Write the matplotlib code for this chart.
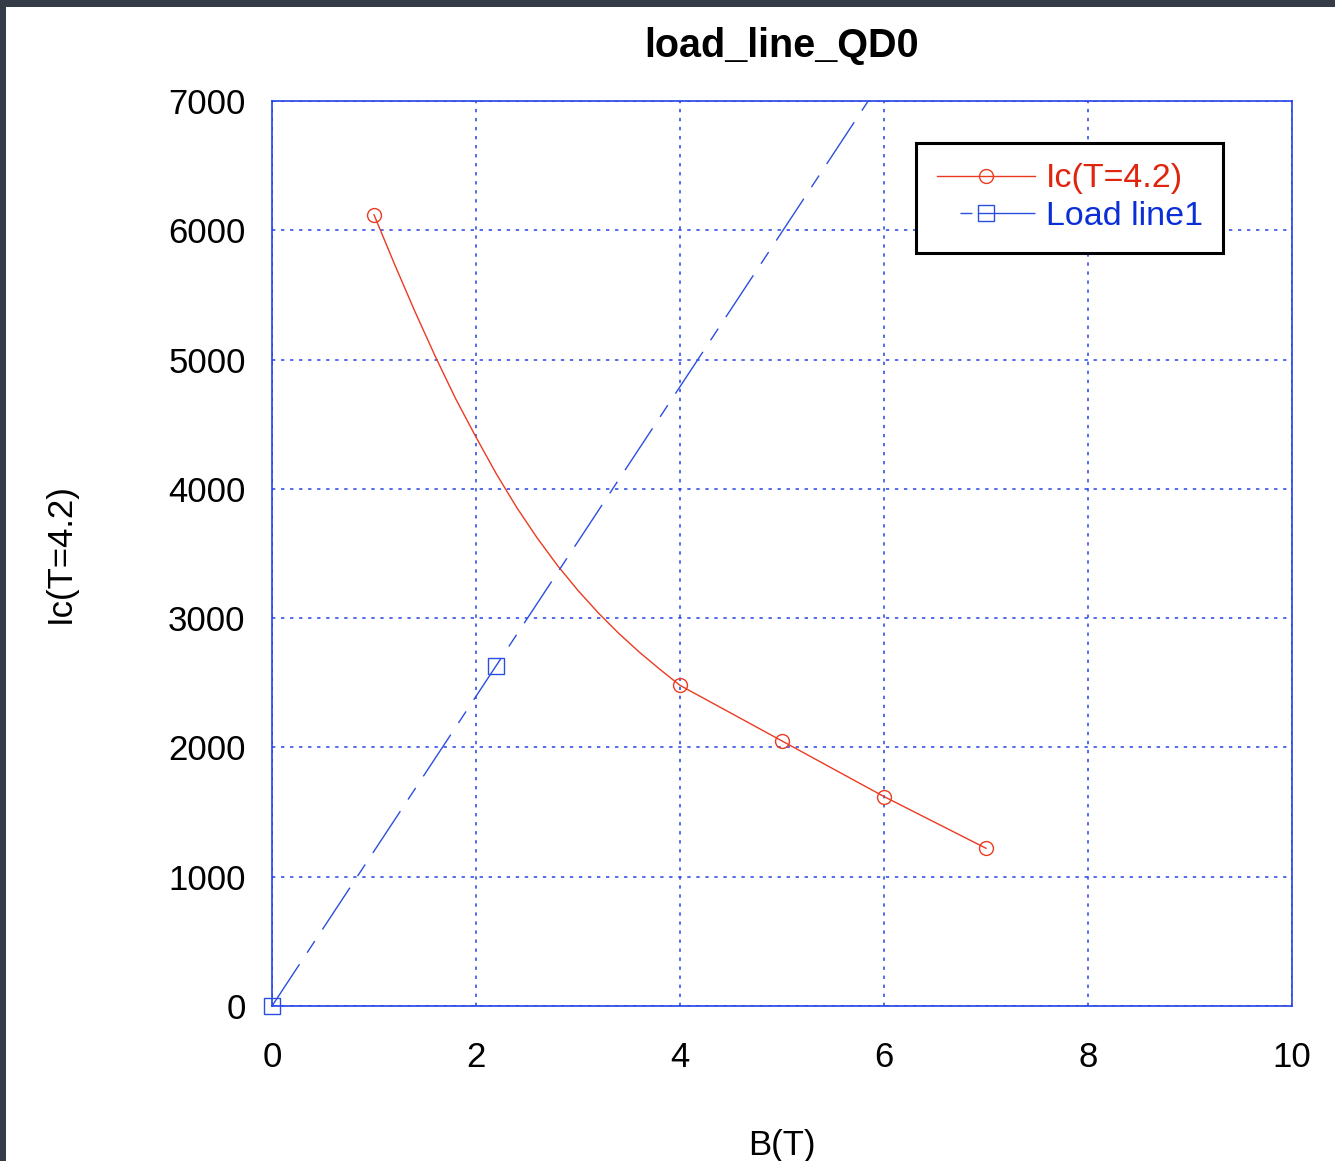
import matplotlib
matplotlib.use("Agg")
import matplotlib.pyplot as plt
from matplotlib.lines import Line2D
from matplotlib.patches import Rectangle

# ==========================================
# DADOS
# ==========================================

titulo = "load_line_QD0"
rotulo_x = "B(T)"
rotulo_y = "Ic(T=4.2)"

# pontos medidos de Ic (marcadores)
ic_b = [1, 4, 5, 6, 7]
ic_vals = [6120, 2480, 2050, 1620, 1220]

# curva suave (linha vermelha)
curva_b = [1.0, 1.2, 1.4, 1.6, 1.8, 2.0, 2.2, 2.4, 2.6, 2.8, 3.0, 3.2, 3.4,
           3.6, 3.8, 4.0, 5.0, 6.0, 7.0]
curva_ic = [6120, 5740, 5374, 5026, 4698, 4400, 4115, 3855, 3620, 3406, 3214,
            3040, 2882, 2738, 2606, 2480, 2050, 1620, 1220]

# linha de carga
carga_b = [0, 2.196]
carga_ic = [0, 2630]

x_ticks = [0, 2, 4, 6, 8, 10]
y_ticks = [0, 1000, 2000, 3000, 4000, 5000, 6000, 7000]

# ==========================================
# ESTILO
# ==========================================

plt.rcParams['font.family'] = ['Liberation Sans', 'DejaVu Sans']
plt.rcParams['lines.scale_dashes'] = False

AZUL_GRADE = '#2442e8'
AZUL = '#2a4fe0'
AZUL_TXT = '#0b2fd6'
VERMELHO = '#ec3a22'
VERMELHO_TXT = '#e0250f'
TRACO_CARGA = (0, (36, 10, 10, 10))

fig = plt.figure(figsize=(13.35, 11.61), dpi=100, facecolor='#353c47')
fundo = Rectangle((6 / 1335, 0), 1, 1 - 7 / 1161, transform=fig.transFigure,
                  facecolor='white', edgecolor='none', zorder=-10)
fig.patches.append(fundo)

ax = fig.add_axes([272 / 1335, 1 - 1006 / 1161, 1020 / 1335, 905 / 1161])
ax.set_xlim(0, 10)
ax.set_ylim(0, 7000)
ax.set_xticks(x_ticks)
ax.set_yticks(y_ticks)
ax.tick_params(length=0, labelsize=25)
ax.tick_params(axis='y', pad=19)
ax.tick_params(axis='x', pad=25)

for sp in ax.spines.values():
    sp.set_color(AZUL_GRADE)
    sp.set_linewidth(1.2)

ax.grid(True, color=AZUL_GRADE, linewidth=1.1, linestyle=(0, (2.4, 4.1)))
ax.set_axisbelow(True)

# curva Ic
ax.plot(curva_b, curva_ic, color=VERMELHO, linewidth=1.0, zorder=3)
ax.plot(ic_b, ic_vals, linestyle='none', marker='o', markersize=10,
        markerfacecolor='none', markeredgecolor=VERMELHO, markeredgewidth=1.0,
        zorder=4)

# linha de carga
ax.axline((carga_b[0], carga_ic[0]), (carga_b[1], carga_ic[1]), color=AZUL,
          linewidth=1.0, linestyle=TRACO_CARGA, zorder=3)
ax.plot(carga_b, carga_ic, linestyle='none', marker='s', markersize=12,
        markerfacecolor='none', markeredgecolor=AZUL, markeredgewidth=1.0,
        zorder=4, clip_on=False)

ax.set_title(titulo, fontsize=28.5, fontweight='bold', pad=32)
ax.set_xlabel(rotulo_x, fontsize=25, labelpad=40)
ax.set_ylabel(rotulo_y, fontsize=25, labelpad=66)

handles = [
    Line2D([], [], color=VERMELHO, linewidth=1.0, marker='o', markersize=10,
           markerfacecolor='none', markeredgecolor=VERMELHO),
    Line2D([], [], color=AZUL, linewidth=1.0,
           linestyle=(0, (0.01, 16.5, 8.6, 4, 200, 1)),
           marker='s', markersize=12, markerfacecolor='none',
           markeredgecolor=AZUL),
]
leg = ax.legend(handles, ['Ic(T=4.2)', 'Load line1'], loc='upper right',
                bbox_to_anchor=((1223 - 272) / 1020, 1 - 42 / 905),
                fontsize=24.5, frameon=True, fancybox=False, handlelength=2.9,
                handletextpad=0.3, borderpad=0.6, labelspacing=0.2,
                borderaxespad=0)
leg.get_frame().set_edgecolor('black')
leg.get_frame().set_linewidth(2.2)
leg.get_frame().set_alpha(1)
for txt, cor in zip(leg.get_texts(), [VERMELHO_TXT, AZUL_TXT]):
    txt.set_color(cor)

fig.savefig("out.png", dpi=100, facecolor=fig.get_facecolor())
